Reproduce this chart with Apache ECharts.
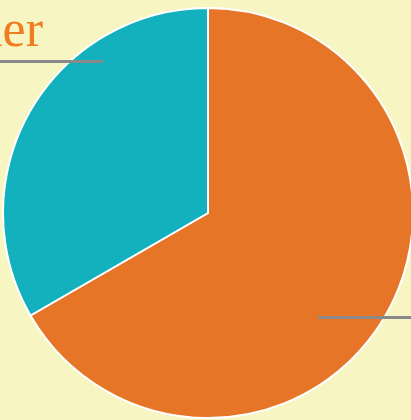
<!DOCTYPE html>
<html>
<head>
<meta charset="utf-8">
<script src="https://cdn.jsdelivr.net/npm/echarts@6/dist/echarts.min.js"></script>
<style>
  html, body { margin: 0; padding: 0; background: #f7f5c2; }
  #chart { width: 411px; height: 420px; }
</style>
</head>
<body>
<div id="chart"></div>
<script>
const names = ['Summer', 'Other']
const values = [2, 1]
const colors = ['#e67527', '#13b0be']

// callout spots, the pie is so big that the labels run off the page
const callouts = [
  { x: 470, y: 310, align: 'left', line: [[318, 317.5], [470, 317.5]] },
  { x: 43, y: 58, align: 'right', line: [[103, 61.5], [-30, 61.5]] }
]

const chart = echarts.init(document.getElementById('chart'))
chart.setOption({
  backgroundColor: '#f7f5c2',
  animation: false,
  series: [{
    type: 'pie',
    center: [208, 213],
    radius: 205,
    startAngle: 90,
    clockwise: true,
    data: names.map((n, i) => ({ name: n, value: values[i], itemStyle: { color: colors[i] } })),
    itemStyle: { borderColor: '#ffffff', borderWidth: 2 },
    label: { show: false },
    labelLine: { show: false }
  }],
  graphic: callouts.flatMap((c, i) => [
    {
      type: 'polyline',
      z: 100,
      shape: { points: c.line },
      style: { stroke: '#8a8a8a', lineWidth: 3, fill: null }
    },
    {
      type: 'text',
      z: 100,
      x: c.x,
      y: c.y,
      style: {
        text: names[i],
        fill: '#f07d22',
        fontFamily: 'Liberation Serif',
        fontSize: 52,
        align: c.align,
        verticalAlign: 'bottom'
      }
    }
  ])
})
</script>
</body>
</html>
